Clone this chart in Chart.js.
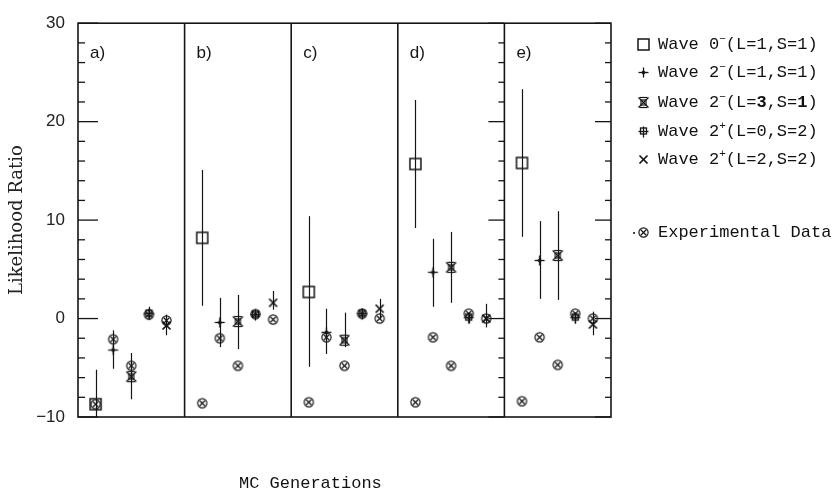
<!DOCTYPE html>
<html>
<head>
<meta charset="utf-8">
<script src="https://cdn.jsdelivr.net/npm/chart.js@4.4.1/dist/chart.umd.min.js"></script>
<style>
  body { margin: 0; background: #fff; }
  #wrap { position: relative; width: 838px; height: 495px; }
  .row { position: absolute; left: 636px; font: 17px "Liberation Mono", monospace; color: #111; white-space: nowrap; line-height: 20px; }
  .row canvas { vertical-align: -3px; margin-right: 7px; }
  .row sup { font-size: 11px; line-height: 0; }
  .dot { position: absolute; left: -3px; top: 9px; width: 2px; height: 2px; background: #444; }
  #xtitle { position: absolute; left: 239px; top: 474px; font: 17px "Liberation Mono", monospace; color: #111; }
</style>
</head>
<body>
<div id="wrap">
  <canvas id="chart" width="838" height="495"></canvas>
  <div id="legend"></div>
  <div id="xtitle">MC Generations</div>
</div>
<script>
// panels and slot positions inside each panel
const panelLabels = ['a)', 'b)', 'c)', 'd)', 'e)'];
const slotOffsets = [0.165, 0.33, 0.5, 0.665, 0.83];
const yTicks = [-10, 0, 10, 20, 30];

// MC generated waves: value, low and high end of the error bar, one per panel
const wave0m = [-8.7, 8.2, 2.7, 15.7, 15.8];
const wave0mLow = [-10, 1.3, -4.9, 9.2, 8.3];
const wave0mHigh = [-5.2, 15.1, 10.4, 22.2, 23.3];

const wave2mL1 = [-3.2, -0.4, -1.4, 4.7, 5.9];
const wave2mL1Low = [-5.1, -2.9, -3.6, 1.2, 2.0];
const wave2mL1High = [-1.2, 2.1, 1.0, 8.1, 9.9];

const wave2mL3 = [-5.9, -0.3, -2.2, 5.2, 6.4];
const wave2mL3Low = [-8.2, -3.1, -2.9, 1.6, 1.9];
const wave2mL3High = [-3.5, 2.4, 0.6, 8.8, 10.9];

const wave2pL0 = [0.5, 0.4, 0.5, 0.1, 0.1];
const wave2pL0Low = [-0.1, -0.1, 0.0, -0.5, -0.5];
const wave2pL0High = [1.2, 0.9, 1.0, 0.6, 0.6];

const wave2pL2 = [-0.7, 1.6, 1.0, 0.0, -0.6];
const wave2pL2Low = [-1.7, 0.9, 0.0, -0.9, -1.7];
const wave2pL2High = [0.4, 2.8, 2.0, 1.5, 0.7];

// experimental data, one array per slot, one value per panel
const expSlot1 = [-8.7, -8.6, -8.5, -8.5, -8.4];
const expSlot2 = [-2.1, -2.0, -1.9, -1.9, -1.9];
const expSlot3 = [-4.8, -4.8, -4.8, -4.8, -4.7];
const expSlot4 = [0.4, 0.45, 0.5, 0.5, 0.5];
const expSlot5 = [-0.2, -0.1, 0.0, 0.0, 0.0];

const legendTexts = [
  'Wave 0<sup>&minus;</sup>(L=1,S=1)',
  'Wave 2<sup>&minus;</sup>(L=1,S=1)',
  'Wave 2<sup>&minus;</sup>(L=<b>3</b>,S=<b>1</b>)',
  'Wave 2<sup>+</sup>(L=0,S=2)',
  'Wave 2<sup>+</sup>(L=2,S=2)'
];
const expLabel = 'Experimental Data';

const ink = '#151515';

function marker(draw) {
  const c = document.createElement('canvas');
  c.width = 15; c.height = 15;
  const g = c.getContext('2d');
  g.strokeStyle = ink; g.fillStyle = ink; g.lineWidth = 1.3;
  draw(g, 7.5);
  return c;
}
function seg(g, x1, y1, x2, y2) { g.beginPath(); g.moveTo(x1, y1); g.lineTo(x2, y2); g.stroke(); }

const mkSquare = marker((g, c) => { g.lineWidth = 1.5; g.strokeRect(c - 5.5, c - 5.5, 11, 11); });
const mkPlus = marker((g, c) => {
  seg(g, c - 5, c, c + 5, c); seg(g, c, c - 5, c, c + 5);
  g.beginPath(); g.moveTo(c, c - 2.5); g.lineTo(c + 2.5, c); g.lineTo(c, c + 2.5); g.lineTo(c - 2.5, c); g.fill();
});
const mkBoxX = marker((g, c) => {
  g.lineWidth = 1.2;
  seg(g, c - 5, c - 5, c + 5, c + 5); seg(g, c + 5, c - 5, c - 5, c + 5);
  seg(g, c - 4, c - 5, c + 4, c - 5); seg(g, c - 4, c + 5, c + 4, c + 5);
  g.strokeRect(c - 2.5, c - 2.5, 5, 5);
});
const mkPlusBox = marker((g, c) => {
  seg(g, c - 5, c, c + 5, c); seg(g, c, c - 5, c, c + 6);
  g.strokeRect(c - 3, c - 3.5, 6, 6);
});
const mkCross = marker((g, c) => {
  g.lineWidth = 1.7;
  seg(g, c - 4, c - 4, c + 4, c + 4); seg(g, c + 4, c - 4, c - 4, c + 4);
});
const mkExp = marker((g, c) => {
  g.lineWidth = 1.2;
  g.beginPath(); g.arc(c, c, 4.6, 0, Math.PI * 2); g.stroke();
  seg(g, c - 3, c - 3, c + 3, c + 3); seg(g, c + 3, c - 3, c - 3, c + 3);
});

const waves = [
  { vals: wave0m, low: wave0mLow, high: wave0mHigh, mark: mkSquare },
  { vals: wave2mL1, low: wave2mL1Low, high: wave2mL1High, mark: mkPlus },
  { vals: wave2mL3, low: wave2mL3Low, high: wave2mL3High, mark: mkBoxX },
  { vals: wave2pL0, low: wave2pL0Low, high: wave2pL0High, mark: mkPlusBox },
  { vals: wave2pL2, low: wave2pL2Low, high: wave2pL2High, mark: mkCross }
];
const expSlots = [expSlot1, expSlot2, expSlot3, expSlot4, expSlot5];

const datasets = waves.map((w, k) => ({
  label: legendTexts[k],
  data: w.vals.map((v, p) => ({ x: p + slotOffsets[k], y: v })),
  pointStyle: w.mark
}));
datasets.push({
  label: expLabel,
  data: expSlots.flatMap((s, k) => s.map((v, p) => ({ x: p + slotOffsets[k], y: v }))),
  pointStyle: mkExp
});

// frame, panel dividers, inward ticks, panel labels and error bars
const framePlugin = {
  id: 'frame',
  beforeDatasetsDraw(chart) {
    const { ctx, chartArea: a, scales: { x, y } } = chart;
    ctx.save();
    ctx.strokeStyle = ink;
    ctx.lineWidth = 1.2;
    waves.forEach((w, k) => {
      w.vals.forEach((v, p) => {
        const px = Math.round(x.getPixelForValue(p + slotOffsets[k])) + 0.5;
        seg(ctx, px, y.getPixelForValue(w.low[p]), px, y.getPixelForValue(w.high[p]));
      });
    });
    ctx.lineWidth = 1.6;
    ctx.strokeRect(a.left, a.top, a.right - a.left, a.bottom - a.top);
    for (let p = 1; p < panelLabels.length; p++) {
      const px = x.getPixelForValue(p);
      seg(ctx, px, a.top, px, a.bottom);
    }
    ctx.lineWidth = 1.3;
    const xd = x.getPixelForValue(4);
    for (let v = -10; v <= 30; v += 2) {
      const py = y.getPixelForValue(v);
      const major = v % 10 === 0;
      seg(ctx, a.left, py, a.left + (major ? 20 : 7), py);
      seg(ctx, a.right, py, a.right - (major ? 16 : 6), py);
      seg(ctx, xd, py, xd - (major ? 16 : 6), py);
    }
    ctx.fillStyle = ink;
    ctx.font = '17px "Liberation Sans", sans-serif';
    ctx.textBaseline = 'middle';
    panelLabels.forEach((t, p) => ctx.fillText(t, x.getPixelForValue(p) + 12, y.getPixelForValue(26.9)));
    ctx.restore();
  }
};

new Chart(document.getElementById('chart'), {
  type: 'scatter',
  data: { datasets },
  options: {
    responsive: false,
    animation: false,
    layout: { padding: { left: 0, right: 227, top: 16, bottom: 0 } },
    plugins: { legend: { display: false }, tooltip: { enabled: false } },
    elements: { point: { radius: 5 } },
    scales: {
      x: {
        type: 'linear', min: 0, max: 5,
        grid: { display: false, drawTicks: false },
        border: { display: false },
        ticks: { display: false },
        afterFit: s => { s.height = 78; }
      },
      y: {
        min: -10, max: 30,
        afterBuildTicks: s => { s.ticks = yTicks.map(v => ({ value: v })); },
        grid: { display: false, drawTicks: false },
        border: { display: false },
        ticks: { color: '#222', padding: 13, font: { family: 'Liberation Sans', size: 17 },
                 callback: v => v < 0 ? '\u2212' + Math.abs(v) : String(v) },
        title: { display: true, text: 'Likelihood Ratio', color: '#222', padding: { top: 7, bottom: 0 },
                 font: { family: 'DejaVu Serif', size: 18 } },
        afterFit: s => { s.width = 78; }
      }
    }
  },
  plugins: [framePlugin]
});

function copyCanvas(src) {
  const c = document.createElement('canvas');
  c.width = src.width; c.height = src.height;
  c.getContext('2d').drawImage(src, 0, 0);
  return c;
}

// legend as real text
const legend = document.getElementById('legend');
const rowCenters = [45, 73, 103, 132, 160];
waves.forEach((w, k) => {
  const row = document.createElement('div');
  row.className = 'row';
  row.style.top = (rowCenters[k] - 10) + 'px';
  row.appendChild(copyCanvas(w.mark));
  row.insertAdjacentHTML('beforeend', legendTexts[k]);
  legend.appendChild(row);
});
const expRow = document.createElement('div');
expRow.className = 'row';
expRow.style.top = (233 - 10) + 'px';
expRow.insertAdjacentHTML('beforeend', '<span class="dot"></span>');
expRow.appendChild(copyCanvas(mkExp));
expRow.insertAdjacentHTML('beforeend', expLabel);
legend.appendChild(expRow);
</script>
</body>
</html>
